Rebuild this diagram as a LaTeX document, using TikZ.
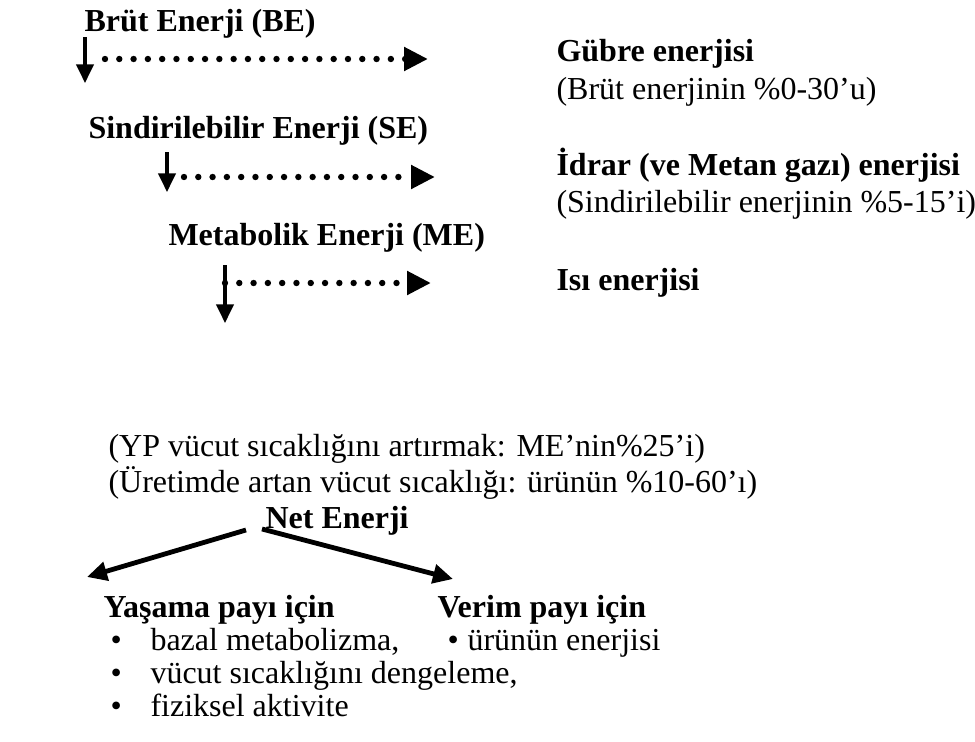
\documentclass[tikz,border=0pt]{standalone}
\usepackage{fontspec}
\setmainfont{Liberation Serif}
\usetikzlibrary{arrows.meta}

\begin{document}
\begin{tikzpicture}[x=.375pt,y=-.375pt,font=\fontsize{12pt}{14pt}\selectfont,
  txt/.style={anchor=base west,inner sep=0pt},
  bold/.style={txt,font=\fontsize{12pt}{14pt}\selectfont\bfseries},
  down/.style={line width=1.2pt,-{Triangle[length=7pt,width=6.5pt]}},
  loss/.style={line width=2.4pt,line cap=round,dash pattern=on 0pt off 5.36pt,-{Triangle[length=9pt,width=8.5pt]}},
  split/.style={line width=1.8pt,-{Triangle[length=7.5pt,width=7pt]}}]
  \useasboundingbox (0,0) rectangle (975,742);
  % energy levels
  \node[bold] (be) at (84,31) {Brüt Enerji (BE)};
  \node[bold] (se) at (88,138) {Sindirilebilir Enerji (SE)};
  \node[bold] (me) at (168,245) {Metabolik Enerji (ME)};
  % losses
  \node[bold] (gubre) at (556,62) {Gübre enerjisi};
  \node[txt] (gubrep) at (556,99) {(Brüt enerjinin \%0-30’u)};
  \node[bold] (idrar) at (556,175) {İdrar (ve Metan gazı) enerjisi};
  \node[txt] (idrarp) at (556,212) {(Sindirilebilir enerjinin \%5-15’i)};
  \node[bold] (isi) at (556,290) {Isı enerjisi};
  \coordinate (d1a) at (85,37);   \coordinate (d1b) at (85,83);
  \coordinate (d2a) at (167,152); \coordinate (d2b) at (167,192);
  \coordinate (d3a) at (225,265); \coordinate (d3b) at (225,323);
  \coordinate (l1a) at (105,59);  \coordinate (l1b) at (428,59);
  \coordinate (l2a) at (184,177); \coordinate (l2b) at (435,177);
  \coordinate (l3a) at (225,283); \coordinate (l3b) at (431,283);
  \draw[down] (d1a) -- (d1b);
  \draw[down] (d2a) -- (d2b);
  \draw[down] (d3a) -- (d3b);
  \draw[loss] (l1a) -- (l1b);
  \draw[loss] (l2a) -- (l2b);
  \draw[loss] (l3a) -- (l3b);
  % heat notes and net energy
  \node[txt] (yp) at (108,456) {(YP vücut sıcaklığını artırmak: ME’nin\%25’i)};
  \node[txt] (uret) at (108,492) {(Üretimde artan vücut sıcaklığı: ürünün \%10-60’ı)};
  \node[bold] (net) at (265,528) {Net Enerji};
  \coordinate (nl) at (246,530); \coordinate (nlt) at (87,577);
  \coordinate (nr) at (262,529); \coordinate (nrt) at (453,579);
  \draw[split] (nl) -- (nlt);
  \draw[split] (nr) -- (nrt);
  % uses
  \node[bold] (yasama) at (103,617) {Yaşama payı için};
  \node[bold] (verim) at (437,617) {Verim payı için};
  \node[txt] (b1) at (110,650) {•};
  \node[txt] (t1) at (150,650) {bazal metabolizma,};
  \node[txt] (b2) at (110,683) {•};
  \node[txt] (t2) at (150,683) {vücut sıcaklığını dengeleme,};
  \node[txt] (b3) at (110,716) {•};
  \node[txt] (t3) at (150,716) {fiziksel aktivite};
  \node[txt] (b4) at (447,650) {•};
  \node[txt] (t4) at (467,650) {ürünün enerjisi};
\end{tikzpicture}
\end{document}
